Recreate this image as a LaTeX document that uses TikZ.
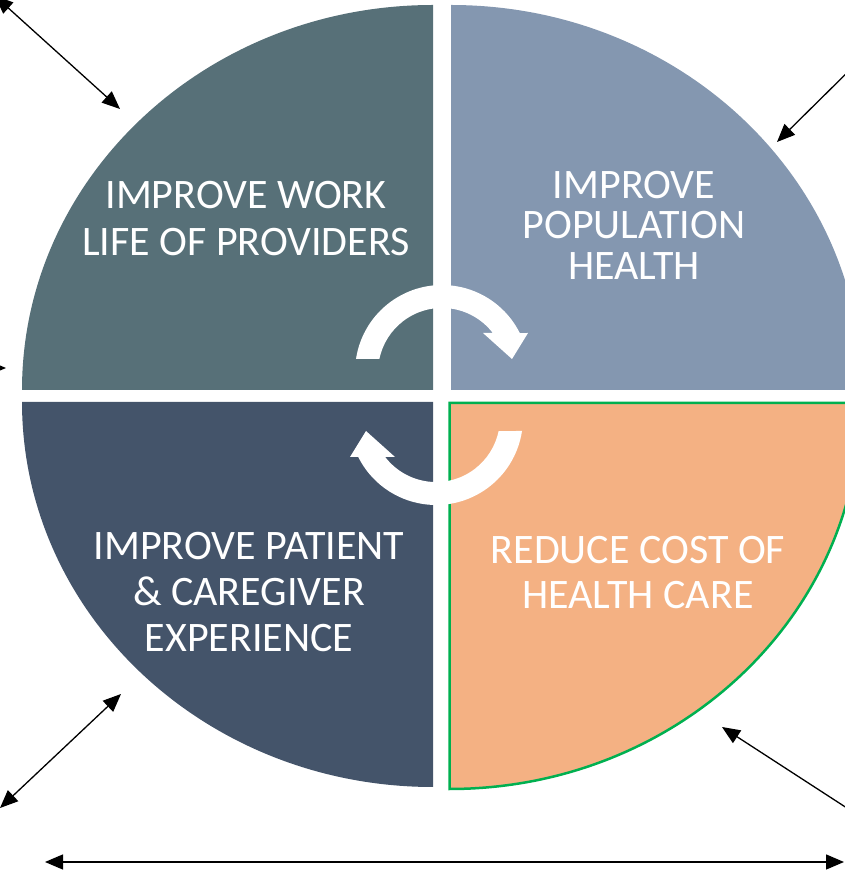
\documentclass[tikz,border=0pt]{standalone}
\usepackage{fontspec}
\setmainfont{Carlito}
\usetikzlibrary{arrows.meta}
\definecolor{workcol}{RGB}{87,112,120}
\definecolor{popcol}{RGB}{132,151,176}
\definecolor{patientcol}{RGB}{68,84,106}
\definecolor{costcol}{RGB}{244,177,131}
\definecolor{edgegreen}{RGB}{0,176,80}

\begin{document}
\begin{tikzpicture}[x=1pt,y=1pt,
  quadtext/.style={text=white,align=center,inner sep=0pt},
  turn/.style={fill=white},
  pointer/.style={-{Triangle[length=18pt,width=15pt]},line width=1.3pt},
  twoway/.style={{Triangle[length=18pt,width=15pt]}-{Triangle[length=18pt,width=15pt]},line width=1.3pt}]

    \useasboundingbox (0,0) rectangle (845,873);

    % four quarters
    \fill[workcol] (433,483) -- (22,483) arc[start angle=180,end angle=90,x radius=411,y radius=385] -- cycle;
    \fill[popcol] (451,483) -- (451,868) arc[start angle=90,end angle=0,x radius=411,y radius=385] -- cycle;
    \fill[patientcol] (433,471) -- (433,86) arc[start angle=270,end angle=180,x radius=411,y radius=385] -- cycle;
    \filldraw[fill=costcol,draw=edgegreen,line width=2.5pt] (449.5,470) -- (449.5,84)
        arc[start angle=270,end angle=360,x radius=411,y radius=386] -- cycle;

    % circular arrows
    \fill[turn] (356,514) arc[start angle=171.4,end angle=26.6,radius=87] -- (528,540) -- (512,514)
        -- (483,540) -- (492.8,540) arc[start angle=37.5,end angle=168.3,radius=64] -- cycle;
    \fill[turn,rotate around={180:(439,478)}] (356,514) arc[start angle=171.4,end angle=26.6,radius=87]
        -- (528,540) -- (512,514) -- (483,540) -- (492.8,540) arc[start angle=37.5,end angle=168.3,radius=64] -- cycle;

    \node[quadtext,font=\fontsize{42}{47}\selectfont] (work) at (246,654) {IMPROVE WORK\\LIFE OF PROVIDERS};
    \node[quadtext,font=\fontsize{42}{40.5}\selectfont] (population) at (634,648) {IMPROVE\\POPULATION\\HEALTH};
    \node[quadtext,font=\fontsize{42}{46}\selectfont] (patient) at (249,281) {IMPROVE PATIENT\\\& CAREGIVER\\EXPERIENCE};
    \node[quadtext,font=\fontsize{42}{45}\selectfont] (cost) at (638,300) {REDUCE COST OF\\HEALTH CARE};

    % arrow ends
    \coordinate (workout) at (-5,877);
    \coordinate (workin) at (120,764);
    \coordinate (popout) at (860,813);
    \coordinate (popin) at (777,731);
    \coordinate (sideout) at (-30,505);
    \coordinate (sidein) at (6,505);
    \coordinate (patientout) at (0,65);
    \coordinate (patientin) at (121,179);
    \coordinate (costout) at (870,50);
    \coordinate (costin) at (722,146);
    \coordinate (spanleft) at (45,11);
    \coordinate (spanright) at (844,11);

    \draw[twoway] (workout) -- (workin);
    \draw[pointer] (popout) -- (popin);
    \draw[pointer] (sideout) -- (sidein);
    \draw[twoway] (patientout) -- (patientin);
    \draw[pointer] (costout) -- (costin);
    \draw[twoway] (spanleft) -- (spanright);
\end{tikzpicture}
\end{document}
